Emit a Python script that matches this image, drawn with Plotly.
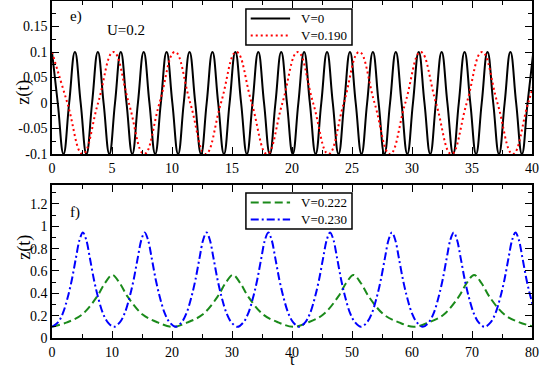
import plotly.graph_objects as go

# ---- top panel (e) data: quarter-period points ----
t_v0 = [0.00, 0.48, 0.96, 1.43, 1.91, 2.39, 2.87, 3.34, 3.82, 4.30, 4.78, 5.25, 5.73, 6.21,
        6.69, 7.16, 7.64, 8.12, 8.60, 9.07, 9.55, 10.03, 10.51, 10.98, 11.46, 11.94, 12.42,
        12.89, 13.37, 13.85, 14.33, 14.80, 15.28, 15.76, 16.24, 16.71, 17.19, 17.67, 18.15,
        18.62, 19.10, 19.58, 20.06, 20.53, 21.01, 21.49, 21.97, 22.44, 22.92, 23.40, 23.88,
        24.35, 24.83, 25.31, 25.79, 26.26, 26.74, 27.22, 27.70, 28.17, 28.65, 29.13, 29.61,
        30.08, 30.56, 31.04, 31.52, 31.99, 32.47, 32.95, 33.43, 33.90, 34.38, 34.86, 35.34,
        35.81, 36.29, 36.77, 37.25, 37.72, 38.20, 38.68, 39.16, 39.63, 40.11]
z_v0 = [0.1, 0, -0.1, 0, 0.1, 0, -0.1, 0, 0.1, 0, -0.1, 0, 0.1, 0, -0.1, 0, 0.1, 0, -0.1, 0,
        0.1, 0, -0.1, 0, 0.1, 0, -0.1, 0, 0.1, 0, -0.1, 0, 0.1, 0, -0.1, 0, 0.1, 0, -0.1, 0,
        0.1, 0, -0.1, 0, 0.1, 0, -0.1, 0, 0.1, 0, -0.1, 0, 0.1, 0, -0.1, 0, 0.1, 0, -0.1, 0,
        0.1, 0, -0.1, 0, 0.1, 0, -0.1, 0, 0.1, 0, -0.1, 0, 0.1, 0, -0.1, 0, 0.1, 0, -0.1, 0,
        0.1, 0, -0.1, 0, 0.1]

t_v190 = [0.00, 1.28, 2.56, 3.84, 5.12, 6.40, 7.68, 8.96, 10.24, 11.52, 12.80, 14.08, 15.36,
          16.64, 17.92, 19.20, 20.48, 21.76, 23.04, 24.32, 25.60, 26.88, 28.16, 29.44, 30.72,
          32.00, 33.28, 34.56, 35.84, 37.12, 38.40, 39.68, 40.96]
z_v190 = [0.1, 0, -0.1, 0, 0.1, 0, -0.1, 0, 0.1, 0, -0.1, 0, 0.1, 0, -0.1, 0, 0.1, 0, -0.1, 0,
          0.1, 0, -0.1, 0, 0.1, 0, -0.1, 0, 0.1, 0, -0.1, 0, 0.1]

# ---- bottom panel (f) data ----
t_v222 = [0, 2.5, 5.0, 7.5, 8.8, 10.05, 11.3, 12.6, 15.1, 17.6,
          20.1, 22.6, 25.1, 27.6, 28.9, 30.15, 31.4, 32.7, 35.2, 37.7,
          40.2, 42.7, 45.2, 47.7, 49.0, 50.25, 51.5, 52.8, 55.3, 57.8,
          60.3, 62.8, 65.3, 67.8, 69.1, 70.35, 71.6, 72.9, 75.4, 77.9, 80.4]
z_v222 = [0.10, 0.14, 0.21, 0.37, 0.49, 0.565, 0.49, 0.37, 0.21, 0.14,
          0.10, 0.14, 0.21, 0.37, 0.49, 0.565, 0.49, 0.37, 0.21, 0.14,
          0.10, 0.14, 0.21, 0.37, 0.49, 0.565, 0.49, 0.37, 0.21, 0.14,
          0.10, 0.14, 0.21, 0.37, 0.49, 0.565, 0.49, 0.37, 0.21, 0.14, 0.10]

t_v230 = [0, 1.0, 1.8, 2.6, 3.3, 4.0, 4.6, 5.15, 5.7, 6.3, 7.0, 7.7, 8.5, 9.3,
          10.3, 11.3, 12.1, 12.9, 13.6, 14.3, 14.9, 15.45, 16.0, 16.6, 17.3, 18.0, 18.8, 19.6,
          20.6, 21.6, 22.4, 23.2, 23.9, 24.6, 25.2, 25.75, 26.3, 26.9, 27.6, 28.3, 29.1, 29.9,
          30.9, 31.9, 32.7, 33.5, 34.2, 34.9, 35.5, 36.05, 36.6, 37.2, 37.9, 38.6, 39.4, 40.2,
          41.2, 42.2, 43.0, 43.8, 44.5, 45.2, 45.8, 46.35, 46.9, 47.5, 48.2, 48.9, 49.7, 50.5,
          51.5, 52.5, 53.3, 54.1, 54.8, 55.5, 56.1, 56.65, 57.2, 57.8, 58.5, 59.2, 60.0, 60.8,
          61.8, 62.8, 63.6, 64.4, 65.1, 65.8, 66.4, 66.95, 67.5, 68.1, 68.8, 69.5, 70.3, 71.1,
          72.1, 73.1, 73.9, 74.7, 75.4, 76.1, 76.7, 77.25, 77.8, 78.4, 79.1, 79.8, 80.6, 81.4,
          82.4]
z_v230 = [0.10, 0.14, 0.22, 0.36, 0.52, 0.72, 0.88, 0.945, 0.88, 0.72, 0.52, 0.36, 0.22, 0.14,
          0.10, 0.14, 0.22, 0.36, 0.52, 0.72, 0.88, 0.945, 0.88, 0.72, 0.52, 0.36, 0.22, 0.14,
          0.10, 0.14, 0.22, 0.36, 0.52, 0.72, 0.88, 0.945, 0.88, 0.72, 0.52, 0.36, 0.22, 0.14,
          0.10, 0.14, 0.22, 0.36, 0.52, 0.72, 0.88, 0.945, 0.88, 0.72, 0.52, 0.36, 0.22, 0.14,
          0.10, 0.14, 0.22, 0.36, 0.52, 0.72, 0.88, 0.945, 0.88, 0.72, 0.52, 0.36, 0.22, 0.14,
          0.10, 0.14, 0.22, 0.36, 0.52, 0.72, 0.88, 0.945, 0.88, 0.72, 0.52, 0.36, 0.22, 0.14,
          0.10, 0.14, 0.22, 0.36, 0.52, 0.72, 0.88, 0.945, 0.88, 0.72, 0.52, 0.36, 0.22, 0.14,
          0.10, 0.14, 0.22, 0.36, 0.52, 0.72, 0.88, 0.945, 0.88, 0.72, 0.52, 0.36, 0.22, 0.14,
          0.10]

series_names = ["V=0", "V=0.190", "V=0.222", "V=0.230"]
top_yticks = [-0.1, -0.05, 0, 0.05, 0.1, 0.15]
top_yticktext = ["-0.1", "-0.05", "0", "0.05", "0.1", "0.15"]
bot_yticks = [0, 0.2, 0.4, 0.6, 0.8, 1.0, 1.2]
bot_yticktext = ["0", "0.2", "0.4", "0.6", "0.8", "1", "1.2"]

FONT = "Liberation Serif, Times New Roman, DejaVu Serif, serif"

STY = {
    "V=0": dict(color="black", width=2),
    "V=0.190": dict(color="red", width=2, dash="2px,3px"),
    "V=0.222": dict(color="#1a8a1a", width=2, dash="8px,4px"),
    "V=0.230": dict(color="blue", width=2, dash="8px,3px,2px,3px"),
}

fig = go.Figure()
fig.add_trace(go.Scatter(x=t_v0, y=z_v0, mode="lines", name=series_names[0],
                         line=dict(**STY["V=0"], shape="spline", smoothing=1.3),
                         xaxis="x", yaxis="y"))
fig.add_trace(go.Scatter(x=t_v190, y=z_v190, mode="lines", name=series_names[1],
                         line=dict(**STY["V=0.190"], shape="spline", smoothing=1.3),
                         xaxis="x", yaxis="y"))
fig.add_trace(go.Scatter(x=t_v222, y=z_v222, mode="lines", name=series_names[2],
                         line=dict(**STY["V=0.222"], shape="spline", smoothing=1.0),
                         xaxis="x2", yaxis="y2"))
fig.add_trace(go.Scatter(x=t_v230, y=z_v230, mode="lines", name=series_names[3],
                         line=dict(**STY["V=0.230"], shape="spline", smoothing=1.0),
                         xaxis="x2", yaxis="y2"))

axis_common = dict(showline=True, linecolor="black", linewidth=1.5, mirror="allticks",
                   ticks="inside", ticklen=7, tickwidth=1.2, tickcolor="black",
                   showgrid=False, zeroline=False, automargin=False,
                   ticklabeloverflow="allow",
                   tickfont=dict(family=FONT, size=14, color="black"))

# compact boxed legends (xmgrace style) built from shapes + text
shapes = []
annotations = []
legend_boxes = [
    # (box x0, x1, y0, y1, entry ys, names)  in paper coordinates
    (0.404, 0.625, 0.8694, 0.9763, [0.9481, 0.8976], series_names[0:2]),
    (0.404, 0.625, 0.3234, 0.4303, [0.4021, 0.3516], series_names[2:4]),
]
for x0, x1, y0, y1, ys, names in legend_boxes:
    shapes.append(dict(type="rect", xref="paper", yref="paper", x0=x0, x1=x1, y0=y0, y1=y1,
                       line=dict(color="black", width=1.5), fillcolor="white", layer="above"))
    for yy, nm in zip(ys, names):
        shapes.append(dict(type="line", xref="paper", yref="paper", x0=0.414, x1=0.496,
                           y0=yy, y1=yy, line=STY[nm], layer="above"))
        annotations.append(dict(text=nm, x=0.5167, y=yy, xref="paper", yref="paper",
                                xanchor="left", yanchor="middle", showarrow=False,
                                borderpad=0, font=dict(family=FONT, size=13)))

annotations += [
    dict(text="e)", x=2.0, y=0.169, xref="x", yref="y", showarrow=False,
         font=dict(family=FONT, size=15)),
    dict(text="U=0.2", x=6.2, y=0.143, xref="x", yref="y", showarrow=False,
         font=dict(family=FONT, size=15)),
    dict(text="f)", x=3.8, y=1.12, xref="x2", yref="y2", showarrow=False,
         font=dict(family=FONT, size=15)),
    dict(text="z(t)", x=-0.085, y=0.773, xref="paper", yref="paper", showarrow=False,
         textangle=-90, font=dict(family=FONT, size=18)),
    dict(text="z(t)", x=-0.085, y=0.227, xref="paper", yref="paper", showarrow=False,
         textangle=-90, font=dict(family=FONT, size=18)),
    dict(text="t", x=0.5, y=-0.0915, xref="paper", yref="paper", showarrow=False,
         yanchor="bottom", borderpad=0, font=dict(family=FONT, size=16)),
]

fig.update_layout(
    width=540, height=369,
    margin=dict(l=52, r=8, t=1, b=31),
    paper_bgcolor="white", plot_bgcolor="white",
    font=dict(family=FONT, size=14, color="black"),
    showlegend=False,
    xaxis=dict(domain=[0, 1], range=[0, 40], anchor="y", dtick=5, tick0=0,
               minor=dict(dtick=2.5, ticks="inside", ticklen=4, tickcolor="black"),
               **axis_common),
    yaxis=dict(domain=[0.546, 1], range=[-0.1, 0.2], anchor="x",
               tickmode="array", tickvals=top_yticks, ticktext=top_yticktext,
               minor=dict(dtick=0.025, tick0=0, ticks="inside", ticklen=4, tickcolor="black"),
               **axis_common),
    xaxis2=dict(domain=[0, 1], range=[0, 80], anchor="y2", dtick=10, tick0=0,
                minor=dict(dtick=5, ticks="inside", ticklen=4, tickcolor="black"),
                **axis_common),
    yaxis2=dict(domain=[0, 0.454], range=[0, 1.37], anchor="x2",
                tickmode="array", tickvals=bot_yticks, ticktext=bot_yticktext,
                minor=dict(dtick=0.1, tick0=0, ticks="inside", ticklen=4, tickcolor="black"),
                **axis_common),
    shapes=shapes,
    annotations=annotations,
)

fig.write_html("out.html", config={"displayModeBar": False},
               post_script="document.body.style.margin='0';document.body.style.overflow='hidden';")
